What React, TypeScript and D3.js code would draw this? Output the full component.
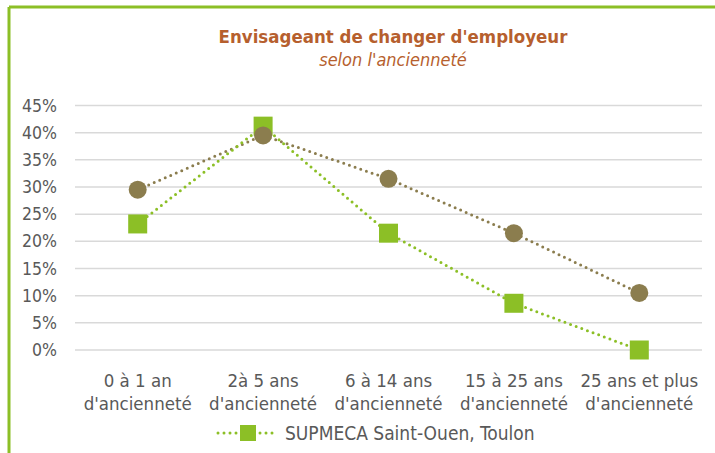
import React from "react";
import * as d3 from "d3";

// categories (two-line labels)
const categories = [
  ["0 à 1 an", "d'ancienneté"],
  ["2à 5 ans", "d'ancienneté"],
  ["6 à 14 ans", "d'ancienneté"],
  ["15 à 25 ans", "d'ancienneté"],
  ["25 ans et plus", "d'ancienneté"],
];

const supmecaValues = [0.232, 0.412, 0.215, 0.086, 0.0];
const overallValues = [0.295, 0.395, 0.315, 0.215, 0.105];

const yTicks = [0, 0.05, 0.1, 0.15, 0.2, 0.25, 0.3, 0.35, 0.4, 0.45];

const legendLabel = "SUPMECA Saint-Ouen, Toulon";
const title = "Envisageant de changer d'employeur";
const subtitle = "selon l'ancienneté";

const W = 715;
const H = 453;
const FONT = "'Liberation Sans Narrow', 'DejaVu Sans Condensed', sans-serif";

const GREEN = "#8CBF26";
const BROWN = "#8B7D4E";
const TEXT = "#595959";

export default function App() {
  const plot = { left: 75, right: 702, top: 105.5, bottom: 350 };

  const x = d3
    .scaleBand<number>()
    .domain(d3.range(categories.length))
    .range([plot.left, plot.right]);
  const cx = (i: number) => (x(i) as number) + x.bandwidth() / 2;

  const y = d3.scaleLinear().domain([0, 0.45]).range([plot.bottom, plot.top]);

  const line = d3
    .line<number>()
    .x((_, i) => cx(i))
    .y((d) => y(d));

  const fmt = d3.format(".0%");

  return (
    <svg
      width={W}
      height={H}
      style={{ position: "absolute", left: 0, top: 0, background: "#fff" }}
    >
      {/* green frame (top and left visible) */}
      <line x1={9} x2={W} y1={7} y2={7} stroke={GREEN} strokeWidth={3} />
      <line x1={9} x2={9} y1={7} y2={H} stroke={GREEN} strokeWidth={3} />

      <text
        x={393}
        y={43}
        textAnchor="middle"
        fontFamily={FONT}
        fontWeight="bold"
        fontSize={18.5}
        fill="#B65F2E"
      >
        {title}
      </text>
      <text
        x={393}
        y={66}
        textAnchor="middle"
        fontFamily={FONT}
        fontStyle="italic"
        fontSize={18}
        fill="#B65F2E"
      >
        {subtitle}
      </text>

      {/* gridlines and y labels */}
      {yTicks.map((t) => (
        <g key={t}>
          <line
            x1={plot.left}
            x2={plot.right}
            y1={y(t)}
            y2={y(t)}
            stroke="#D9D9D9"
            strokeWidth={1.5}
          />
          <text
            x={57}
            y={y(t)}
            dy="0.35em"
            textAnchor="end"
            fontFamily={FONT}
            fontSize={17.5}
            fill={TEXT}
          >
            {fmt(t)}
          </text>
        </g>
      ))}

      {/* x labels */}
      {categories.map((c, i) => (
        <text
          key={i}
          x={cx(i)}
          textAnchor="middle"
          fontFamily={FONT}
          fontSize={18.5}
          fill={TEXT}
        >
          <tspan x={cx(i)} y={387}>
            {c[0]}
          </tspan>
          <tspan x={cx(i)} y={410}>
            {c[1]}
          </tspan>
        </text>
      ))}

      {/* series lines */}
      <path
        d={line(overallValues) || ""}
        fill="none"
        stroke={BROWN}
        strokeWidth={3}
        strokeLinecap="round"
        strokeDasharray="0 6"
      />
      <path
        d={line(supmecaValues) || ""}
        fill="none"
        stroke={GREEN}
        strokeWidth={3}
        strokeLinecap="round"
        strokeDasharray="0 6"
      />

      {/* markers */}
      {supmecaValues.map((v, i) => (
        <rect
          key={"s" + i}
          x={cx(i) - 9.5}
          y={y(v) - 9.5}
          width={19}
          height={19}
          fill={GREEN}
        />
      ))}
      {overallValues.map((v, i) => (
        <circle key={"o" + i} cx={cx(i)} cy={y(v)} r={9} fill={BROWN} />
      ))}

      {/* legend */}
      <g transform="translate(218,433)">
        <line
          x1={0}
          x2={60}
          y1={0}
          y2={0}
          stroke={GREEN}
          strokeWidth={3}
          strokeLinecap="round"
          strokeDasharray="0 6"
        />
        <rect x={22} y={-8} width={16} height={16} fill={GREEN} />
        <text
          x={67}
          y={0}
          dy="0.35em"
          fontFamily={FONT}
          fontSize={19}
          fill={TEXT}
        >
          {legendLabel}
        </text>
      </g>
    </svg>
  );
}
